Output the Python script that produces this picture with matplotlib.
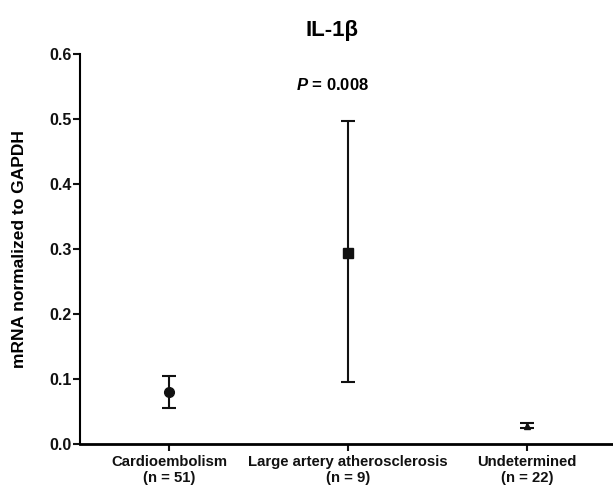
import numpy as np
import matplotlib
matplotlib.use('Agg')
import matplotlib.pyplot as plt

plt.rcParams['font.family'] = ['Liberation Sans', 'DejaVu Sans']
plt.rcParams['font.weight'] = 'bold'
plt.rcParams['mathtext.fontset'] = 'custom'
plt.rcParams['mathtext.it'] = 'Liberation Sans:bold:italic'
plt.rcParams['mathtext.rm'] = 'Liberation Sans:bold'

groups = ['Cardioembolism\n(n = 51)',
          'Large artery atherosclerosis\n(n = 9)',
          'Undetermined\n(n = 22)']
means = [0.080, 0.294, 0.028]
lower = [0.056, 0.095, 0.025]
upper = [0.104, 0.497, 0.032]
markers = ['o', 's', '^']
msizes = [7, 7, 4]
yticks = [0.0, 0.1, 0.2, 0.3, 0.4, 0.5, 0.6]


def main():
    fig = plt.figure(figsize=(6.13, 4.87), dpi=100)
    ax = fig.add_axes([0.1305, 0.0883, 0.8695, 0.8008])

    x = np.arange(len(groups))
    for i in range(len(groups)):
        err = [[means[i] - lower[i]], [upper[i] - means[i]]]
        ax.errorbar([x[i]], [means[i]], yerr=err, fmt=markers[i],
                    color='#111111', ms=msizes[i], lw=1.5, capsize=5,
                    capthick=1.5)

    ax.set_xlim(-0.5, 2.48)
    ax.set_ylim(0, 0.6)
    ax.set_xticks(x)
    ax.set_xticklabels(groups, fontsize=10.7, fontweight='bold')
    ax.set_yticks(yticks)
    ax.set_yticklabels(['%.1f' % t for t in yticks], fontsize=11.5,
                       fontweight='bold')
    ax.spines['top'].set_visible(False)
    ax.spines['right'].set_visible(False)
    ax.spines['left'].set_linewidth(1.5)
    ax.spines['bottom'].set_linewidth(2.0)
    ax.tick_params(axis='both', width=1.5, length=5, colors='#111111')
    ax.tick_params(axis='x', pad=3)
    ax.tick_params(axis='y', pad=1)
    ax.set_ylabel('mRNA normalized to GAPDH', fontsize=12.5,
                  fontweight='bold')
    ax.yaxis.set_label_coords(-0.099, 0.5)

    fig.text(0.542, 0.938, 'IL-1β', ha='center', va='center',
             fontsize=16, fontweight='bold')
    ax.text(0.91, 0.552, r'$\it{P}$ = 0.008', ha='center', va='center',
            fontsize=12, fontweight='bold')

    fig.savefig('out.png', dpi=100)


if __name__ == '__main__':
    main()
